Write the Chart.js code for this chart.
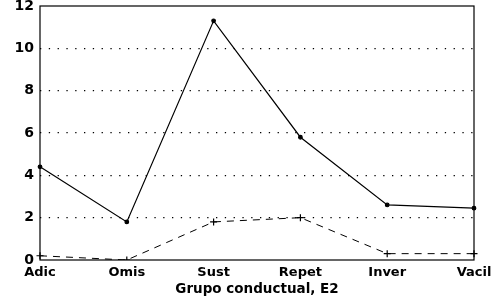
<!DOCTYPE html>
<html>
<head>
<meta charset="utf-8">
<script src="https://cdn.jsdelivr.net/npm/chart.js@4"></script>
<style>
  html, body { margin: 0; padding: 0; background: #fff; }
  #wrap { width: 498px; height: 298px; }
</style>
</head>
<body>
<div id="wrap"><canvas id="chart" width="498" height="298"></canvas></div>
<script>
// ------------------ Data ------------------
const categories = ["Adic", "Omis", "Sust", "Repet", "Inver", "Vacil"];
const serieSolid = [4.4, 1.8, 11.3, 5.8, 2.6, 2.45];
const serieDashed = [0.2, 0, 1.8, 2.0, 0.3, 0.3];
const yTicks = [0, 2, 4, 6, 8, 10, 12];

const boldFont = size => ({ family: "DejaVu Sans", size: size, weight: "bold" });

// frame round the plot area
const framePlugin = {
  id: "frame",
  afterDraw(chart) {
    const { ctx, chartArea: a } = chart;
    ctx.save();
    ctx.strokeStyle = "#000";
    ctx.lineWidth = 1.2;
    ctx.strokeRect(a.left, a.top, a.right - a.left, a.bottom - a.top);
    ctx.restore();
  }
};

new Chart(document.getElementById("chart"), {
  type: "line",
  data: {
    labels: categories,
    datasets: [
      {
        data: serieSolid,
        borderColor: "#000",
        borderWidth: 1.2,
        pointRadius: 1.8,
        pointBackgroundColor: "#000",
        pointBorderColor: "#000",
        tension: 0
      },
      {
        data: serieDashed,
        borderColor: "#000",
        borderWidth: 1,
        borderDash: [7, 6],
        pointStyle: "cross",
        pointRadius: 3.5,
        pointBorderWidth: 1.2,
        pointBorderColor: "#000",
        tension: 0
      }
    ]
  },
  options: {
    responsive: false,
    animation: false,
    layout: { padding: { top: 6, right: 24, left: 0, bottom: 0 } },
    plugins: {
      legend: { display: false },
      tooltip: { enabled: false }
    },
    scales: {
      x: {
        offset: false,
        grid: { display: false, drawTicks: false },
        border: { display: false },
        ticks: { color: "#000", font: boldFont(13), padding: 5, maxRotation: 0, autoSkip: false },
        title: {
          display: true,
          text: "Grupo conductual, E2",
          color: "#000",
          font: boldFont(13.5),
          padding: { top: 1, bottom: 0 }
        },
        afterFit(scale) { scale.height = 38; }
      },
      y: {
        min: 0,
        max: 12,
        afterBuildTicks(scale) { scale.ticks = yTicks.map(v => ({ value: v })); },
        grid: {
          drawTicks: false,
          color: ctx => (ctx.tick && (ctx.tick.value === 0 || ctx.tick.value === 12)) ? "rgba(0,0,0,0)" : "#000",
          lineWidth: 1.3
        },
        border: { display: false, dash: [1.3, 7.5] },
        ticks: { color: "#000", font: boldFont(14), padding: 6 },
        afterFit(scale) {
          scale.width = 40;
          scale.paddingTop = 0;
          scale.paddingBottom = 0;
        }
      }
    }
  },
  plugins: [framePlugin]
});
</script>
</body>
</html>
